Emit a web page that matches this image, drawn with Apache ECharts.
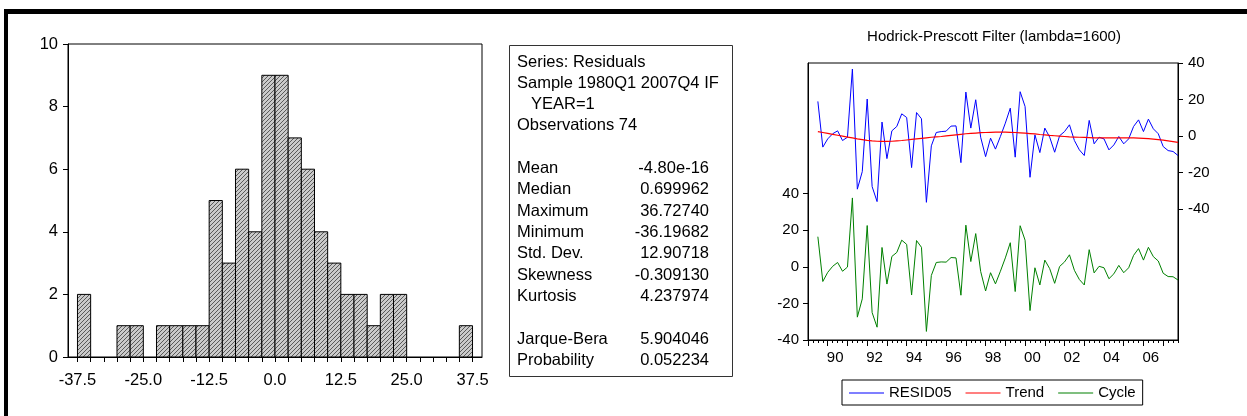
<!DOCTYPE html>
<html>
<head>
<meta charset="utf-8">
<script src="https://cdn.jsdelivr.net/npm/echarts@6/dist/echarts.min.js"></script>
<style>
  html, body { margin: 0; padding: 0; background: #fff; }
  #main { width: 1247px; height: 416px; }
</style>
</head>
<body>
<div id="main"></div>
<script>
// histogram of residuals (bin start, count), bins 2.5 wide
const binWidth = 2.5
const binStarts = [-37.5, -35, -32.5, -30, -27.5, -25, -22.5, -20, -17.5, -15,
  -12.5, -10, -7.5, -5, -2.5, 0, 2.5, 5, 7.5, 10,
  12.5, 15, 17.5, 20, 22.5, 25, 27.5, 30, 32.5, 35]
const binCounts = [2, 0, 0, 1, 1, 0, 1, 1, 1, 1,
  5, 3, 6, 4, 9, 9, 7, 6, 4, 3,
  2, 2, 1, 2, 2, 0, 0, 0, 0, 1]
const histTickLabels = [-37.5, -25, -12.5, 0, 12.5, 25, 37.5]
const histMinorTicks = [-37.5, -35, -32.5, -30, -27.5, -25, -22.5, -20, -17.5, -15, -12.5, -10, -7.5, -5, -2.5,
  0, 2.5, 5, 7.5, 10, 12.5, 15, 17.5, 20, 22.5, 25, 27.5, 30, 32.5, 35, 37.5]

// stats table
const headerLines = ['Series: Residuals', 'Sample 1980Q1 2007Q4 IF', 'YEAR=1', 'Observations 74']
const statNames = ['Mean', 'Median', 'Maximum', 'Minimum', 'Std. Dev.', 'Skewness', 'Kurtosis']
const statValues = ['-4.80e-16', '0.699962', '36.72740', '-36.19682', '12.90718', '-0.309130', '4.237974']
const testNames = ['Jarque-Bera', 'Probability']
const testValues = ['5.904046', '0.052234']

// HP filter, quarterly 1989Q3 .. 2007Q4 (axis runs from 1989Q1)
const axisStartYear = 1989
const firstObs = 2 // 1989Q3
const resid05 = [19.0, -6.0, -1.5, 1.3, 2.9, -2.4, -0.6, 36.7, -29.0, -19.4,
  20.3, -27.6, -35.8, 7.7, -12.3, 2.9, 5.3, 12.2, 10.2, -17.2,
  12.9, 9.5, -36.2, -5.3, 2.0, 2.5, 2.7, 5.5, 5.6, -14.5,
  24.1, 4.4, 19.9, -0.6, -11.2, -1.1, -7.1, -0.2, 7.1, 15.3,
  -11.5, 24.3, 16.2, -22.5, 0.7, -9.0, 4.4, -0.6, -8.8, 0.2,
  2.5, 6.2, -2.4, -7.5, -10.6, 8.6, -4.2, -0.6, -1.5, -7.5,
  -4.8, -0.2, -4.2, -1.5, 5.3, 8.9, 2.5, 9.3, 4.0, 1.3,
  -5.7, -7.9, -8.4, -10.6]
const trend = [2.5, 2.0, 1.5, 1.0, 0.5, 0.0, -0.5, -1.0, -1.5, -1.9,
  -2.3, -2.6, -2.8, -2.9, -2.9, -2.8, -2.6, -2.4, -2.1, -1.8,
  -1.5, -1.2, -0.9, -0.6, -0.4, -0.2, 0.1, 0.4, 0.7, 1.0,
  1.3, 1.5, 1.7, 1.9, 2.0, 2.1, 2.2, 2.2, 2.2, 2.1,
  2.0, 1.8, 1.6, 1.4, 1.2, 0.9, 0.7, 0.4, 0.2, 0.0,
  -0.2, -0.4, -0.5, -0.6, -0.7, -0.8, -0.9, -0.9, -1.0, -1.0,
  -1.0, -1.0, -1.0, -1.0, -1.0, -1.1, -1.2, -1.4, -1.6, -1.9,
  -2.2, -2.6, -3.0, -3.4]
const cycle = [16.5, -8.0, -3.0, 0.3, 2.4, -2.4, -0.1, 37.7, -27.5, -17.5,
  22.6, -25.0, -33.0, 10.6, -9.4, 5.7, 7.9, 14.6, 12.3, -15.4,
  14.4, 10.7, -35.3, -4.7, 2.4, 2.7, 2.6, 5.1, 4.9, -15.5,
  22.8, 2.9, 18.2, -2.5, -13.2, -3.2, -9.3, -2.4, 4.9, 13.2,
  -13.5, 22.5, 14.6, -23.9, -0.5, -9.9, 3.7, -1.0, -9.0, 0.2,
  2.7, 6.6, -1.9, -6.9, -9.9, 9.4, -3.3, 0.3, -0.5, -6.5,
  -3.8, 0.8, -3.2, -0.5, 6.3, 10.0, 3.7, 10.7, 5.6, 3.2,
  -3.5, -5.3, -5.4, -7.2]
const yearLabels = [1990, 1992, 1994, 1996, 1998, 2000, 2002, 2004, 2006]
const hpTickLabels = [-40, -20, 0, 20, 40]
const lastIndex = 75 // 2007Q4

const FONT = '"Liberation Sans", Arial, sans-serif'

// hatch fill for the bars
function makeHatch () {
  const c = document.createElement('canvas')
  c.width = 4
  c.height = 4
  const ctx = c.getContext('2d')
  ctx.fillStyle = '#cacaca'
  ctx.fillRect(0, 0, 4, 4)
  ctx.strokeStyle = '#2a2a2a'
  ctx.lineWidth = 0.7
  ctx.beginPath()
  ctx.moveTo(0, 4); ctx.lineTo(4, 0)
  ctx.moveTo(-1, 1); ctx.lineTo(1, -1)
  ctx.moveTo(3, 5); ctx.lineTo(5, 3)
  ctx.stroke()
  return c
}
const hatch = { image: makeHatch(), repeat: 'repeat' }

function toPairs (arr) {
  return arr.map((v, i) => [firstObs + i, v])
}

const quarterTicks = []
for (let q = 0; q <= lastIndex; q++) quarterTicks.push(q)
const yearTicks = []
for (let q = 0; q <= lastIndex; q += 4) yearTicks.push(q)
const yearCenters = yearLabels.map(y => (y - axisStartYear) * 4 + 1.5)

// table texts
const tableEls = []
const rowH = 21.3
function txt (t, x, y, align) {
  return { type: 'text', x: x, y: y,
    style: { text: t, fontSize: 16.5, fontFamily: FONT, fill: '#000', align: align, verticalAlign: 'middle' } }
}
headerLines.forEach((t, i) => {
  tableEls.push(txt(t, i === 2 ? 531 : 517, 62 + i * rowH, 'left'))
})
statNames.forEach((t, i) => {
  const y = 168.6 + i * rowH
  tableEls.push(txt(t, 517, y, 'left'))
  tableEls.push(txt(statValues[i], 709, y, 'right'))
})
testNames.forEach((t, i) => {
  const y = 339 + i * rowH
  tableEls.push(txt(t, 517, y, 'left'))
  tableEls.push(txt(testValues[i], 709, y, 'right'))
})

const axisLineBlack = { show: true, onZero: false, lineStyle: { color: '#000', width: 1 } }

const chart = echarts.init(document.getElementById('main'), null, { renderer: 'canvas' })
chart.setOption({
  backgroundColor: '#fff',
  animation: false,
  textStyle: { fontFamily: FONT, color: '#000' },
  grid: [
    { left: 68, top: 44, width: 414, height: 313, show: true, borderColor: '#000', borderWidth: 1, backgroundColor: 'transparent' },
    { left: 808, top: 63, width: 370, height: 277, show: true, borderColor: '#000', borderWidth: 1, backgroundColor: 'transparent' }
  ],
  xAxis: [
    {
      type: 'value', gridIndex: 0, min: -39.3, max: 39.3,
      axisLine: axisLineBlack,
      axisTick: { show: true, customValues: histMinorTicks, length: 5, lineStyle: { color: '#000' } },
      axisLabel: { customValues: histTickLabels, formatter: v => v.toFixed(1), fontSize: 16.5, color: '#000', margin: 15 },
      splitLine: { show: false }
    },
    {
      type: 'value', gridIndex: 1, min: 0, max: lastIndex,
      axisLine: axisLineBlack,
      axisTick: { show: true, customValues: quarterTicks, length: 3, lineStyle: { color: '#000' } },
      axisLabel: {
        customValues: yearCenters,
        formatter: v => String(axisStartYear + (v - 1.5) / 4).slice(2),
        fontSize: 15, color: '#000', margin: 10
      },
      splitLine: { show: false }
    },
    {
      type: 'value', gridIndex: 1, min: 0, max: lastIndex, position: 'bottom',
      axisLine: { show: false, onZero: false },
      axisTick: { show: true, customValues: yearTicks, length: 6, lineStyle: { color: '#000' } },
      axisLabel: { show: false },
      splitLine: { show: false }
    }
  ],
  yAxis: [
    {
      type: 'value', gridIndex: 0, min: 0, max: 10, interval: 2,
      axisLine: axisLineBlack,
      axisTick: { show: true, length: 5, lineStyle: { color: '#000' } },
      axisLabel: { fontSize: 16.5, color: '#000', margin: 10 },
      splitLine: { show: false }
    },
    {
      type: 'value', gridIndex: 1, min: -40, max: 111.5, position: 'left',
      axisLine: axisLineBlack,
      axisTick: { show: true, customValues: hpTickLabels, length: 5, lineStyle: { color: '#000' } },
      axisLabel: { customValues: hpTickLabels, fontSize: 15, color: '#000', margin: 9 },
      splitLine: { show: false }
    },
    {
      type: 'value', gridIndex: 1, min: -111.5, max: 40, position: 'right',
      axisLine: axisLineBlack,
      axisTick: { show: true, customValues: hpTickLabels, length: 5, lineStyle: { color: '#000' } },
      axisLabel: { customValues: hpTickLabels, fontSize: 15, color: '#000', margin: 10 },
      splitLine: { show: false }
    }
  ],
  legend: {
    data: ['RESID05', 'Trend', 'Cycle'],
    left: 842, top: 380,
    orient: 'horizontal',
    icon: 'rect',
    padding: [5, 7, 4, 7],
    itemGap: 14,
    itemWidth: 35,
    itemHeight: 1.2,
    borderColor: '#000', borderWidth: 1,
    textStyle: { fontSize: 15, color: '#000', fontFamily: FONT, lineHeight: 16 }
  },
  series: [
    {
      type: 'custom',
      xAxisIndex: 0, yAxisIndex: 0,
      encode: { x: 0, y: 1 },
      data: binStarts.map((b, i) => [b, binCounts[i]]),
      renderItem (params, api) {
        const x0 = api.value(0)
        const n = api.value(1)
        if (!n) return null
        const p0 = api.coord([x0, n])
        const p1 = api.coord([x0 + binWidth, 0])
        return {
          type: 'rect',
          shape: { x: p0[0], y: p0[1], width: p1[0] - p0[0], height: p1[1] - p0[1] },
          style: { fill: hatch, stroke: '#000', lineWidth: 1 }
        }
      }
    },
    {
      name: 'RESID05', type: 'line', xAxisIndex: 1, yAxisIndex: 2,
      data: toPairs(resid05), symbol: 'none', color: '#0000ff',
      lineStyle: { width: 1, color: '#0000ff' }
    },
    {
      name: 'Trend', type: 'line', xAxisIndex: 1, yAxisIndex: 2,
      data: toPairs(trend), symbol: 'none', color: '#ff0000',
      lineStyle: { width: 1.2, color: '#ff0000' }
    },
    {
      name: 'Cycle', type: 'line', xAxisIndex: 1, yAxisIndex: 1,
      data: toPairs(cycle), symbol: 'none', color: '#008000',
      lineStyle: { width: 1, color: '#008000' }
    }
  ],
  graphic: {
    elements: [
      // frame edges
      { type: 'rect', shape: { x: 4, y: 9, width: 1243, height: 5 }, style: { fill: '#000' } },
      { type: 'rect', shape: { x: 4, y: 9, width: 4, height: 407 }, style: { fill: '#000' } },
      // stats box
      { type: 'rect', shape: { x: 509.5, y: 45.5, width: 223, height: 331 }, style: { fill: 'none', stroke: '#333', lineWidth: 1 } },
      {
        type: 'text', x: 994, y: 37,
        style: { text: 'Hodrick-Prescott Filter (lambda=1600)', fontSize: 15, fontFamily: FONT, fill: '#000', align: 'center', verticalAlign: 'middle' }
      }
    ].concat(tableEls)
  }
})
</script>
</body>
</html>
